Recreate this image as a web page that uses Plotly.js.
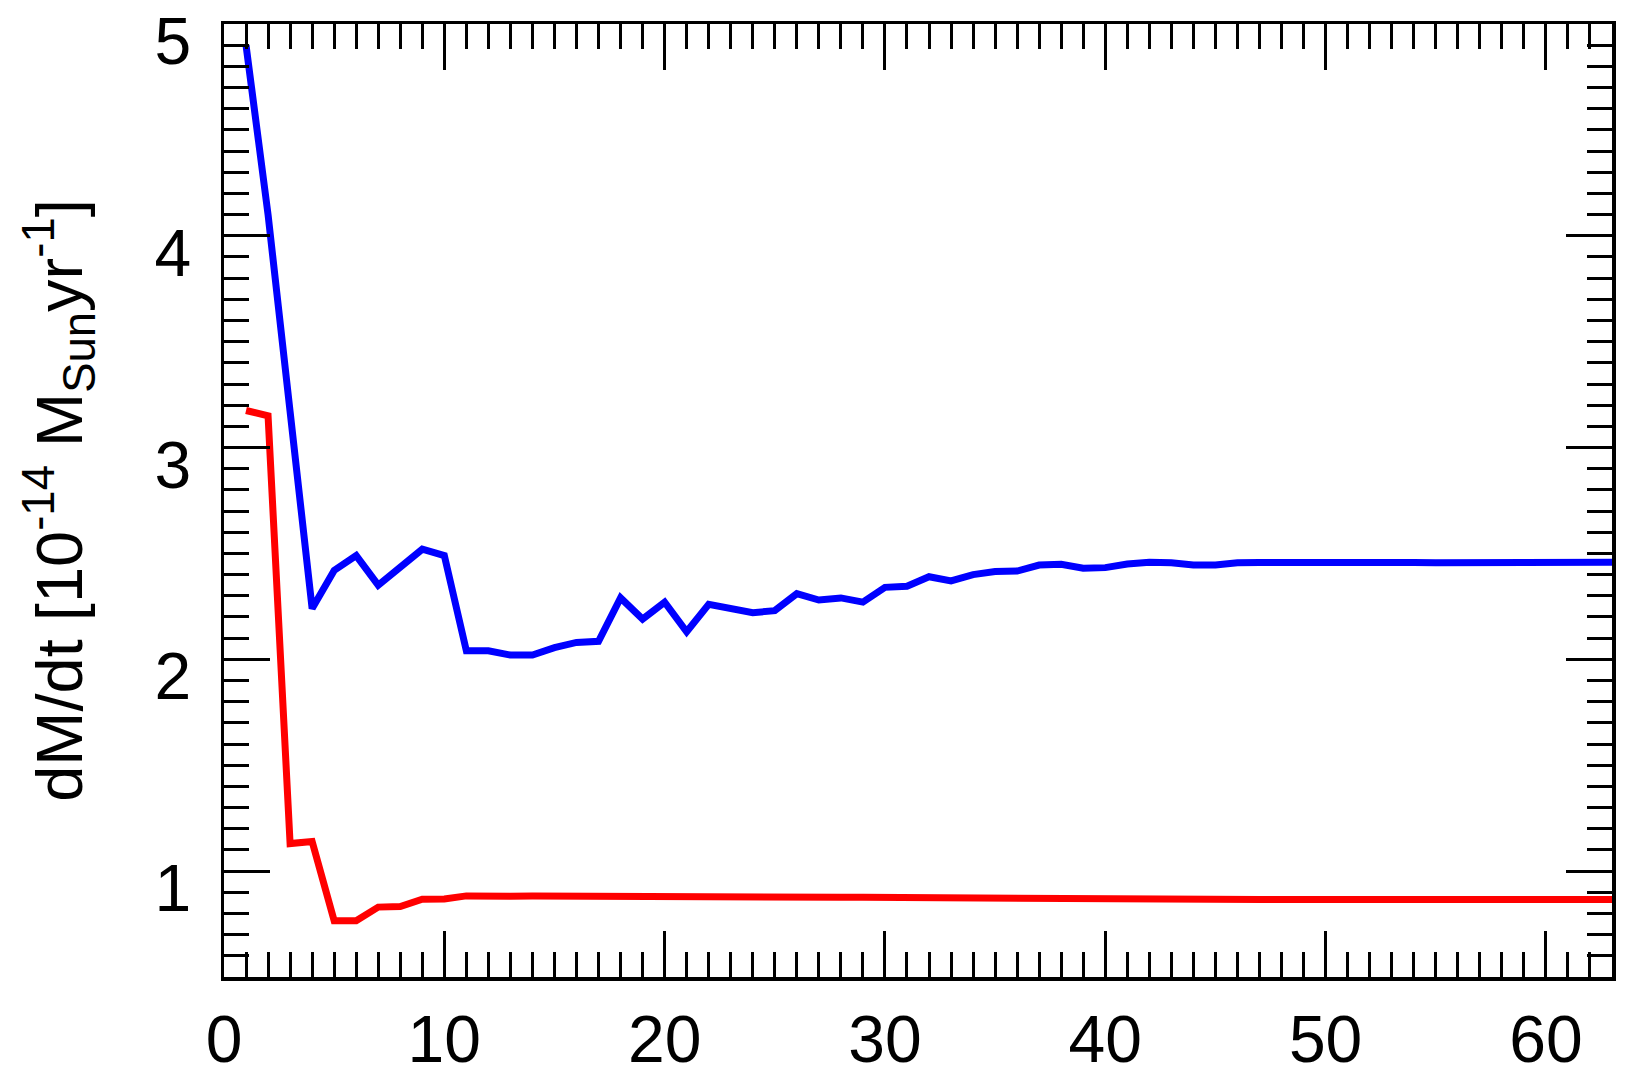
<!DOCTYPE html>
<html>
<head>
<meta charset="utf-8">
<script src="https://cdn.plot.ly/plotly-3.0.1.min.js"></script>
<style>
  html, body { margin: 0; padding: 0; background: #fff; }
  #my_graph { width: 1626px; height: 1082px; }
</style>
</head>
<body>
<div id="my_graph"></div>
<script>
// time steps
const steps = [1, 2, 3, 4, 5, 6, 7, 8, 9, 10, 11, 12, 13, 14, 15, 16, 17, 18, 19, 20,
    21, 22, 23, 24, 25, 26, 27, 28, 29, 30, 31, 32, 33, 34, 35, 36, 37, 38, 39, 40,
    41, 42, 43, 44, 45, 46, 47, 48, 49, 50, 51, 52, 53, 54, 55, 56, 57, 58, 59, 60,
    61, 62, 63];

// blue curve
const rate_blue = [4.90, 4.10, 3.17, 2.24, 2.42, 2.49, 2.35, 2.43, 2.52, 2.49,
    2.04, 2.04, 2.02, 2.02, 2.055, 2.08, 2.085, 2.29, 2.19, 2.27,
    2.13, 2.26, 2.24, 2.22, 2.23, 2.31, 2.28, 2.29, 2.27, 2.34,
    2.345, 2.39, 2.37, 2.40, 2.415, 2.417, 2.445, 2.449, 2.43, 2.433,
    2.45, 2.458, 2.456, 2.446, 2.446, 2.456, 2.457, 2.458, 2.459, 2.46,
    2.461, 2.462, 2.46, 2.457, 2.456, 2.456, 2.457, 2.458, 2.458, 2.458,
    2.458, 2.458, 2.458];

// red curve
const rate_red = [3.175, 3.15, 1.13, 1.14, 0.766, 0.766, 0.83, 0.833, 0.867, 0.868,
    0.883, 0.879, 0.881, 0.882, 0.881, 0.881, 0.882, 0.884, 0.885, 0.883,
    0.882, 0.881, 0.879, 0.878, 0.878, 0.877, 0.877, 0.876, 0.876, 0.875,
    0.874, 0.873, 0.872, 0.871, 0.870, 0.869, 0.869, 0.868, 0.868, 0.867,
    0.866, 0.866, 0.866, 0.866, 0.866, 0.866, 0.866, 0.866, 0.866, 0.866,
    0.866, 0.866, 0.866, 0.866, 0.866, 0.866, 0.866, 0.866, 0.866, 0.866,
    0.866, 0.866, 0.866];

const x_ticks = [0, 10, 20, 30, 40, 50, 60];
const y_ticks = [1, 2, 3, 4, 5];

const font_name = '"Liberation Sans", Arial, Helvetica, sans-serif';

const data = [
    {x: steps, y: rate_red, mode: 'lines', line: {color: '#ff0000', width: 7}},
    {x: steps, y: rate_blue, mode: 'lines', line: {color: '#0000ff', width: 7}}
];

const axis_common = {
    showgrid: false,
    zeroline: false,
    showline: true,
    linecolor: '#000',
    linewidth: 3.5,
    mirror: 'allticks',
    ticks: 'inside',
    tickcolor: '#000',
    tickwidth: 3,
    ticklen: 46,
    ticklabeloverflow: 'allow',
    tickfont: {family: font_name, size: 66, color: '#000'}
};

const layout = {
    width: 1626,
    height: 1082,
    margin: {l: 224, r: 14, t: 24, b: 105},
    paper_bgcolor: '#fff',
    plot_bgcolor: '#fff',
    showlegend: false,
    xaxis: Object.assign({}, axis_common, {
        range: [0, 63],
        tickmode: 'array',
        tickvals: x_ticks,
        ticktext: x_ticks.map(String),
        ticklabelstandoff: 2,
        minor: {dtick: 1, tick0: 0, ticks: 'inside', ticklen: 25, tickwidth: 3, tickcolor: '#000', showgrid: false}
    }),
    yaxis: Object.assign({}, axis_common, {
        range: [0.5, 5],
        tickmode: 'array',
        tickvals: y_ticks,
        ticktext: y_ticks.map(String),
        ticklabelstandoff: 16,
        ticklabelshift: 17,
        minor: {dtick: 0.1, tick0: 0, ticks: 'inside', ticklen: 25, tickwidth: 3, tickcolor: '#000', showgrid: false},
        title: {
            text: 'dM/dt [10<sup>-14</sup> M<sub>Sun</sub>yr<sup>-1</sup>]',
            font: {family: font_name, size: 65, color: '#000'},
            standoff: 52
        }
    })
};

Plotly.newPlot('my_graph', data, layout, {staticPlot: true});
</script>
</body>
</html>
